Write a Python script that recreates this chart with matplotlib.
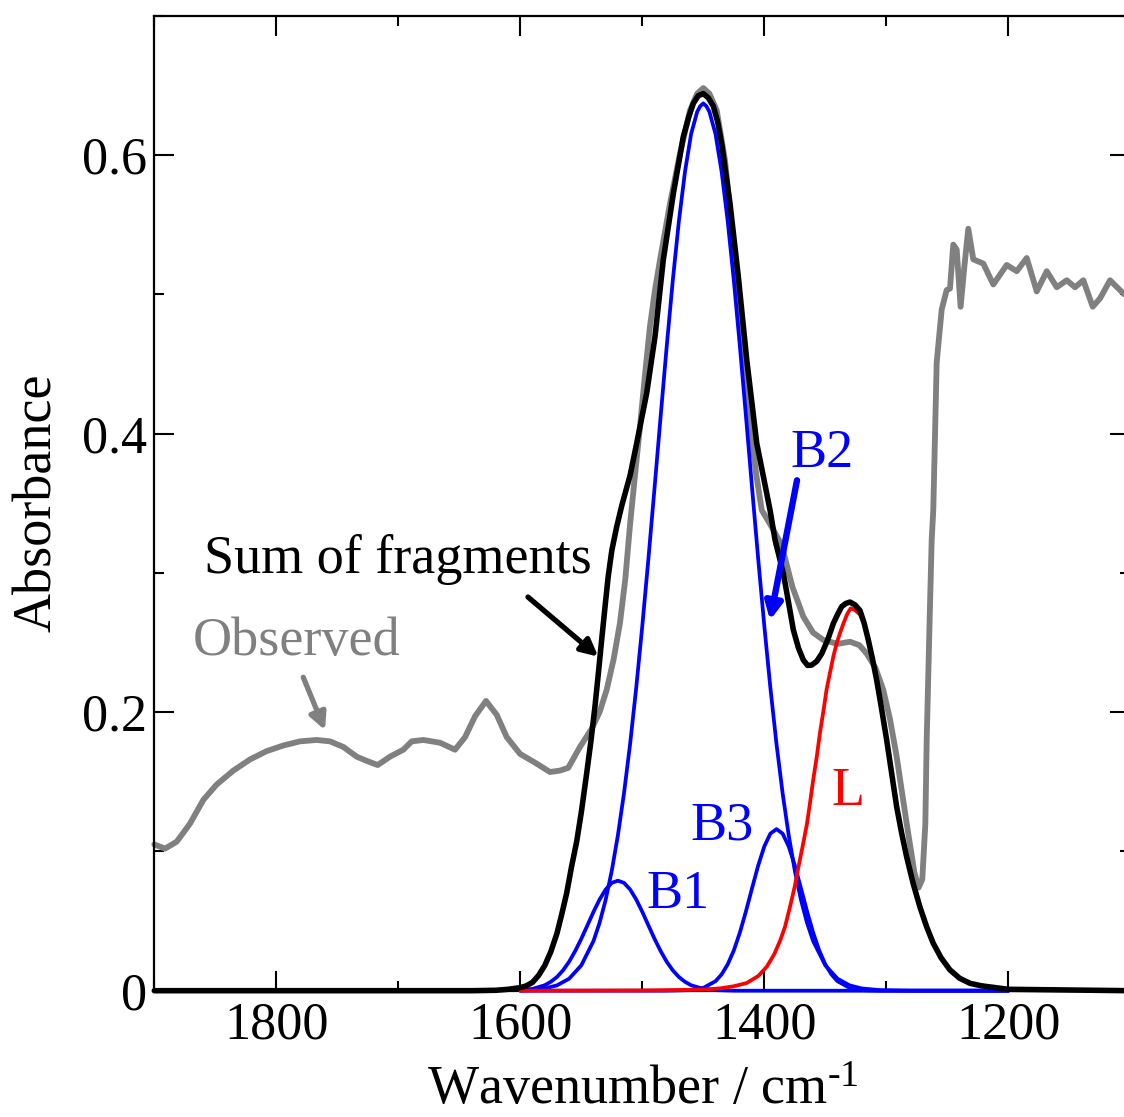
import matplotlib
matplotlib.use('Agg')
import matplotlib.pyplot as plt
from matplotlib.ticker import MultipleLocator

plt.rcParams['font.family'] = ['Liberation Serif', 'DejaVu Serif']
plt.rcParams['mathtext.fontset'] = 'custom'
plt.rcParams['mathtext.rm'] = 'Liberation Serif'
plt.rcParams['mathtext.default'] = 'regular'

# ---------------- data ----------------
obs_x = [1900, 1891.2, 1881.6, 1870.7, 1859.8, 1848.9, 1835.2, 1821.6, 1807.9, 1794.3,
         1780.6, 1766.9, 1756.0, 1745.1, 1734.1, 1725.9, 1716.9, 1706.8, 1695.9, 1689.0,
         1679.5, 1665.8, 1653.5, 1645.3, 1637.1, 1628.1, 1619.3, 1611.1, 1600.2, 1586.6,
         1575.7, 1567.5, 1560.7, 1551.1, 1541.5, 1535.0, 1529.2, 1523.5, 1518.3, 1514.0,
         1510.0, 1506.0, 1501.9, 1497.8, 1493.7, 1489.6, 1485.5, 1477.3, 1469.1, 1460.9,
         1455.0, 1450.0, 1445.0, 1439.0, 1432.2, 1426.7, 1419.9, 1411.7, 1406.5, 1402.1,
         1394.0, 1385.8, 1377.0, 1368.0, 1360.0, 1351.6, 1340.0, 1329.7, 1322.0, 1316.1,
         1309.0, 1302.5, 1297.0, 1291.5, 1283.3, 1277.0, 1273.5, 1270.5, 1268.0, 1266.9,
         1264.2, 1262.8, 1261.5, 1258.7, 1254.6, 1250.5, 1247.8, 1245.1, 1242.3, 1239.1,
         1236.0, 1232.8, 1228.7, 1220.5, 1212.3, 1201.3, 1193.1, 1184.9, 1176.7, 1168.5,
         1160.3, 1152.1, 1145.3, 1138.5, 1130.8, 1124.8, 1116.6, 1105.1, 1100.0]
obs_y = [0.105, 0.102, 0.107, 0.120, 0.137, 0.148, 0.158, 0.166, 0.172, 0.176,
         0.179, 0.180, 0.179, 0.175, 0.168, 0.165, 0.162, 0.168, 0.173, 0.179,
         0.180, 0.178, 0.173, 0.182, 0.197, 0.208, 0.198, 0.182, 0.170, 0.163,
         0.157, 0.158, 0.160, 0.175, 0.188, 0.200, 0.216, 0.238, 0.264, 0.295,
         0.335, 0.370, 0.405, 0.442, 0.477, 0.503, 0.5245, 0.565, 0.601, 0.632,
         0.644, 0.648, 0.644, 0.632, 0.596, 0.5485, 0.477, 0.405, 0.370, 0.345,
         0.333, 0.320, 0.290, 0.2685, 0.257, 0.2518, 0.249, 0.2505, 0.248, 0.242,
         0.232, 0.216, 0.195, 0.168, 0.120, 0.085, 0.074, 0.080, 0.120, 0.180,
         0.276, 0.3236, 0.345, 0.451, 0.489, 0.503, 0.504, 0.5356, 0.532, 0.491,
         0.520, 0.547, 0.525, 0.522, 0.507, 0.521, 0.5165, 0.526, 0.502, 0.5165,
         0.505, 0.510, 0.505, 0.510, 0.491, 0.497, 0.510, 0.500, 0.502]

sum_x = [1900, 1640, 1620, 1610, 1600, 1595, 1590, 1585, 1580, 1575, 1570, 1566, 1562,
         1558, 1553.8, 1550, 1545.6, 1542, 1538.8, 1536, 1533.3, 1530.5, 1528, 1525,
         1521, 1516.9, 1510, 1504.6, 1496.4, 1489.6, 1482.8, 1474.6, 1466.4, 1462,
         1458.2, 1454.1, 1450.0, 1445.9, 1441.8, 1438.3, 1434.9, 1428.1, 1421.3, 1414.4,
         1406.2, 1400.5, 1395.3, 1391.2, 1384.4, 1380.0, 1376.2, 1372.0, 1368.0, 1364.5,
         1361.1, 1357.0, 1352.9, 1348.0, 1343.4, 1340.0, 1336.6, 1333.2, 1329.8, 1325.7,
         1321.6, 1318.2, 1314.8, 1311.3, 1307.9, 1303.8, 1299.7, 1295.6, 1291.5, 1287.4,
         1283.3, 1278, 1272.4, 1267, 1261.5, 1255, 1247.8, 1240, 1231.4, 1222, 1215,
         1200, 1100]
sum_y = [0.0, 0.0, 0.0003, 0.001, 0.0022, 0.0035, 0.006, 0.011, 0.018, 0.028, 0.041,
         0.055, 0.070, 0.089, 0.107, 0.128, 0.156, 0.180, 0.204, 0.228, 0.252, 0.276,
         0.297, 0.316, 0.333, 0.348, 0.370, 0.393, 0.429, 0.4695, 0.5246, 0.572, 0.613,
         0.627, 0.637, 0.6425, 0.644, 0.641, 0.635, 0.624, 0.608, 0.565, 0.5126, 0.453,
         0.393, 0.368, 0.345, 0.3236, 0.2996, 0.278, 0.259, 0.246, 0.2374, 0.2335,
         0.2338, 0.2365, 0.242, 0.252, 0.2637, 0.270, 0.2757, 0.278, 0.279, 0.277,
         0.273, 0.264, 0.252, 0.238, 0.223, 0.202, 0.180, 0.156, 0.132, 0.113,
         0.096, 0.077, 0.060, 0.046, 0.034, 0.0235, 0.0149, 0.009, 0.0053, 0.0035,
         0.0027, 0.001, 0.0]

b1_x = [1600, 1590, 1580, 1575, 1570, 1565, 1560, 1555, 1550, 1545, 1540, 1535, 1530,
        1525, 1520, 1515, 1510, 1505, 1500, 1495, 1490, 1485, 1480, 1475, 1470, 1465,
        1460, 1450, 1440, 1425, 1200]
b1_y = [0.0004, 0.0013, 0.0039, 0.0064, 0.0098, 0.0146, 0.0208, 0.0285, 0.0373, 0.0469,
        0.0566, 0.0655, 0.0727, 0.0774, 0.079, 0.0774, 0.0727, 0.0655, 0.0566, 0.0469,
        0.0373, 0.0285, 0.0208, 0.0146, 0.0098, 0.0064, 0.0039, 0.0013, 0.0004, 0.0, 0.0]

b2_x = [1600, 1590, 1580, 1570, 1560, 1550, 1540, 1535, 1530, 1525, 1520, 1515, 1510,
        1505, 1500, 1495, 1490, 1485, 1480, 1475, 1470, 1465, 1460, 1455, 1452.5, 1450,
        1447.5, 1445, 1440, 1435, 1430, 1425, 1420, 1415, 1410, 1405, 1400, 1395, 1390,
        1385, 1380, 1375, 1370, 1365, 1360, 1350, 1340, 1330, 1320, 1305, 1280, 1200]
b2_y = [0.0002, 0.0006, 0.0016, 0.0038, 0.0086, 0.0182, 0.0357, 0.0488, 0.0654, 0.0862,
        0.1116, 0.1418, 0.1771, 0.2173, 0.2619, 0.310, 0.3606, 0.412, 0.4625, 0.510,
        0.5525, 0.588, 0.615, 0.631, 0.635, 0.637, 0.635, 0.631, 0.615, 0.588, 0.5525,
        0.510, 0.4625, 0.412, 0.3606, 0.310, 0.2619, 0.2173, 0.1771, 0.1418, 0.1116,
        0.0862, 0.0654, 0.0488, 0.0357, 0.0182, 0.0086, 0.0038, 0.0016, 0.0004, 0.0, 0.0]

b3_x = [1600, 1480, 1460, 1450, 1440, 1435, 1430, 1425, 1420, 1415, 1410, 1405, 1400,
        1395, 1390, 1385, 1380, 1375, 1370, 1365, 1360, 1355, 1350, 1345, 1340, 1330,
        1320, 1305, 1200]
b3_y = [0.0, 0.0, 0.0004, 0.0020, 0.0068, 0.0117, 0.0189, 0.0289, 0.0418, 0.0571,
        0.0737, 0.0899, 0.1036, 0.1128, 0.116, 0.1128, 0.1036, 0.0899, 0.0737, 0.0571,
        0.0418, 0.0289, 0.0189, 0.0117, 0.0068, 0.0020, 0.0004, 0.0, 0.0]

l_x = [1600, 1500, 1470, 1450, 1436, 1425, 1414.5, 1405, 1398, 1392, 1387, 1383, 1379,
       1375, 1372, 1368.5, 1365, 1362.5, 1360, 1357, 1354.4, 1351.5, 1349, 1346, 1343.4,
       1340.5, 1338, 1335, 1332, 1329.2, 1326, 1321.6, 1318, 1314.8, 1311, 1307.9, 1304,
       1299.7, 1295.5, 1291.5, 1287.5, 1283.3, 1278, 1272.4, 1267, 1261.5, 1255, 1247.8,
       1240, 1231.4, 1215, 1200]
l_y = [0.0, 0.0002, 0.0005, 0.0008, 0.0017, 0.0032, 0.0055, 0.0105, 0.0172, 0.026, 0.036,
       0.046, 0.060, 0.075, 0.089, 0.104, 0.120, 0.135, 0.151, 0.168, 0.185, 0.201, 0.216,
       0.229, 0.240, 0.250, 0.2566, 0.264, 0.2705, 0.2745, 0.2735, 0.270, 0.263, 0.252,
       0.238, 0.223, 0.203, 0.180, 0.156, 0.132, 0.113, 0.096, 0.077, 0.060, 0.046, 0.034,
       0.023, 0.0149, 0.009, 0.0053, 0.0027, 0.001]

x_major = [1800, 1600, 1400, 1200]
y_major = [0.0, 0.2, 0.4, 0.6]
y_labels = ['0', '0.2', '0.4', '0.6']

GRAY = '#808080'
BLUE = '#0000ff'
RED = '#ff0000'

# ---------------- figure ----------------
fig = plt.figure(figsize=(11.24, 11.17), dpi=100)
ax = fig.add_axes([0.13728, 0.11307, 0.86833, 0.87296])

line_kw = dict(clip_on=False, solid_joinstyle='round', solid_capstyle='round')
ax.plot(obs_x, obs_y, color=GRAY, lw=4.2, zorder=2, **line_kw)
for bx, by in ((b1_x, b1_y), (b2_x, b2_y), (b3_x, b3_y)):
    ax.plot(bx, by, color=BLUE, lw=2.7, zorder=3, **line_kw)
ax.plot(l_x, l_y, color=RED, lw=2.7, zorder=4, **line_kw)
ax.plot(sum_x, sum_y, color='black', lw=4.0, zorder=5, **line_kw)

ax.set_xlim(1900, 1100)
ax.set_ylim(0, 0.7)

ax.set_xticks(x_major)
ax.xaxis.set_minor_locator(MultipleLocator(100))
ax.set_yticks(y_major)
ax.set_yticklabels(y_labels)
ax.yaxis.set_minor_locator(MultipleLocator(0.1))

ax.tick_params(which='both', direction='in', top=True, right=True, width=1.5,
               labelsize=37.5, color='black')
ax.tick_params(which='major', length=14.4)
ax.tick_params(which='minor', length=7.2)
ax.tick_params(axis='x', which='major', pad=8)
ax.tick_params(axis='y', which='major', pad=5)
for sp in ax.spines.values():
    sp.set_linewidth(1.6)

ax.set_xlabel('Wavenumber / cm$^{\u20101}$', fontsize=39)
ax.xaxis.set_label_coords(0.5, -0.1162)
ax.xaxis.label.set_verticalalignment('baseline')
ax.set_ylabel('Absorbance', fontsize=39, labelpad=14)

# ---------------- annotations ----------------
def arrow(tip, start, color, lw):
    ax.annotate('', xy=tip, xytext=start,
                arrowprops=dict(arrowstyle='-|>', color=color, lw=lw,
                                mutation_scale=25, shrinkA=0, shrinkB=0),
                zorder=6)

ax.text(1868.3, 0.241, 'Observed', color=GRAY, fontsize=39, ha='left', va='baseline')
arrow((1760.1, 0.187), (1777.9, 0.225), GRAY, 3.8)

ax.text(1541.2, 0.2996, 'Sum of fragments', color='black', fontsize=39,
        ha='right', va='baseline')
arrow((1536.1, 0.2398), (1593.7, 0.2826), 'black', 3.8)

ax.text(1378.9, 0.376, 'B2', color=BLUE, fontsize=39, ha='left', va='baseline')
arrow((1395.3, 0.266), (1373.2, 0.3664), BLUE, 4.6)

ax.text(1496.4, 0.0592, 'B1', color=BLUE, fontsize=39, ha='left', va='baseline')
ax.text(1460.9, 0.1082, 'B3', color=BLUE, fontsize=39, ha='left', va='baseline')
ax.text(1344.8, 0.1333, 'L', color=RED, fontsize=39, ha='left', va='baseline')

fig.savefig('out.png', dpi=100)
